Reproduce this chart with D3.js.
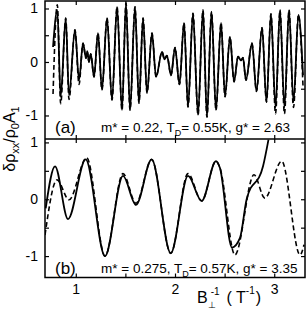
<!DOCTYPE html>
<html lang="en">
    <head>
        <meta charset="utf-8">
        <title>SdH oscillations</title>
        <script type="text/javascript" src="https://cdn.jsdelivr.net/npm/d3@7"></script>
        <style>
            body { margin: 0; background: #fff; }
            text { font-family: "Liberation Sans", Arial, sans-serif; fill: #000; }
        </style>
    </head>
    <body>
        <script type="text/javascript">
            // panel (a): extrema of the oscillation, B^-1 in 1/T
            var aX = [0.771, 0.814, 0.848, 0.899, 0.932, 0.992, 1.033, 1.073, 1.103, 1.116,
                      1.133, 1.151, 1.184, 1.224, 1.264, 1.315, 1.365, 1.416, 1.466, 1.506,
                      1.547, 1.597, 1.637, 1.678, 1.718, 1.768, 1.809, 1.869, 1.894, 1.919,
                      1.960, 2.000, 2.045, 2.091, 2.131, 2.181, 2.232, 2.282, 2.322, 2.368,
                      2.413, 2.464, 2.504, 2.554, 2.595, 2.635, 2.665, 2.685, 2.715, 2.776,
                      2.821, 2.877, 2.922, 2.967, 3.013, 3.058, 3.103, 3.149, 3.194, 3.244, 3.290];
            // measured (solid)
            var aMeas = [0.28, 0.97, -0.65, 0.82, -0.62, 0.60, -0.34, 0.35, 0.07, 0.20,
                         0.00, 0.15, -0.28, 0.54, -0.52, 0.82, -0.71, 1.03, -0.90, 1.10,
                         -0.90, 1.03, -0.77, 0.82, -0.58, 0.54, -0.28, 0.19, 0.05, 0.12,
                         -0.25, 0.27, -0.42, 0.73, -0.84, 0.91, -0.99, 0.97, -1.03, 0.94,
                         -0.90, 0.73, -0.65, 0.47, -0.37, 0.10, 0.03, 0.08, -0.34, 0.35,
                         -0.55, 0.64, -0.75, 0.90, -0.85, 0.97, -0.85, 0.97, -0.75, 0.88, -0.25];
            // calculated (dashed)
            var aCalc = [-0.60, 1.07, -0.78, 0.82, -0.70, 0.60, -0.42, 0.35, 0.07, 0.20,
                         0.00, 0.15, -0.28, 0.54, -0.52, 0.82, -0.71, 1.03, -0.90, 1.10,
                         -0.90, 1.03, -0.77, 0.82, -0.58, 0.54, -0.28, 0.19, 0.05, 0.12,
                         -0.25, 0.27, -0.42, 0.73, -0.84, 0.91, -0.99, 0.97, -1.03, 0.94,
                         -0.90, 0.73, -0.65, 0.47, -0.37, 0.10, 0.03, 0.08, -0.34, 0.35,
                         -0.55, 0.64, -0.75, 0.90, -0.97, 0.97, -0.97, 0.97, -0.85, 0.88, -0.45];

            // panel (b)
            var bMeasX = [0.697, 0.791, 0.922, 1.100, 1.295, 1.476, 1.607, 1.765, 1.957,
                          2.131, 2.269, 2.413, 2.453, 2.574, 2.655, 2.722, 2.887, 2.942];
            var bMeas = [-0.16, 0.58, -0.35, 0.70, -1.00, 0.41, -0.10, 0.70, -0.95,
                         0.41, -0.03, 0.67, 0.55, -0.85, -0.68, 0.00, 0.58, 1.05];
            var bCalcX = [0.690, 0.811, 0.932, 1.110, 1.295, 1.476, 1.607, 1.765, 1.957, 2.131,
                          2.269, 2.413, 2.453, 2.604, 2.796, 2.905, 3.075, 3.260, 3.300];
            var bCalc = [-0.63, 0.34, -0.01, 0.73, -1.00, 0.45, -0.07, 0.70, -0.95, 0.45,
                         -0.03, 0.67, 0.55, -0.98, 0.43, 0.02, 0.67, -0.98, -0.80];

            var xTicks = [1, 1.5, 2, 2.5, 3];
            var yTicks = [-1, -0.5, 0, 0.5, 1];
            var labelA = "(a)", labelB = "(b)";
            var paramsA = ["m* = 0.22, T", "D", "= 0.55K, g* = 2.63"];
            var paramsB = ["m* = 0.275, T", "D", "= 0.57K, g* = 3.35"];

            var w = 307, h = 312;
            var left = 45, right = 305;
            var topA = 1, mid = 139, botB = 277.5;

            var svg = d3.select("body").append("svg")
                .attr("width", w)
                .attr("height", h);

            var x = d3.scaleLinear().domain([0.69, 3.31]).range([left, right]);
            var yA = d3.scaleLinear().domain([-1.44, 1.14]).range([mid, topA]);
            var yB = d3.scaleLinear().domain([-1.377, 1.06]).range([botB, mid]);

            function zip(xs, ys) {
                return xs.map(function(d, i) { return [d, ys[i]]; });
            }

            function panel(y, y0, y1, sets, showX) {
                var g = svg.append("g");
                g.append("defs").append("clipPath").attr("id", "clip" + y0)
                    .append("rect").attr("x", left).attr("y", y0)
                    .attr("width", right - left).attr("height", y1 - y0);

                var line = d3.line()
                    .x(function(d) { return x(d[0]); })
                    .y(function(d) { return y(d[1]); })
                    .curve(d3.curveMonotoneX);

                sets.forEach(function(s) {
                    g.append("path")
                        .attr("clip-path", "url(#clip" + y0 + ")")
                        .attr("d", line(s.pts))
                        .attr("fill", "none")
                        .attr("stroke", "#000")
                        .attr("stroke-width", s.dash ? 1.6 : 1.8)
                        .attr("stroke-linejoin", "round")
                        .attr("stroke-dasharray", s.dash ? "5,3" : null);
                });

                // ticks inward on all four sides
                var lab = function(d) { return Number.isInteger(d) ? String(d) : ""; };
                var ax = [
                    [d3.axisLeft(y).tickValues(yTicks).tickFormat(lab), left, 0],
                    [d3.axisRight(y).tickValues(yTicks).tickFormat(""), right, 0],
                    [d3.axisTop(x).tickValues(xTicks).tickFormat(""), 0, y0],
                    [d3.axisBottom(x).tickValues(xTicks).tickFormat(showX ? lab : ""), 0, y1]
                ];
                ax.forEach(function(a) {
                    var ag = g.append("g")
                        .attr("transform", "translate(" + a[1] + "," + a[2] + ")")
                        .call(a[0].tickSize(-4).tickPadding(7));
                    ag.select(".domain").remove();
                    ag.selectAll("line").attr("stroke-width", 1.2);
                    ag.selectAll("text")
                        .attr("font-size", 14)
                        .attr("font-family", "Liberation Sans, Arial, sans-serif");
                });
                return g;
            }

            panel(yA, topA, mid, [
                {pts: zip(aX, aCalc), dash: true},
                {pts: zip(aX, aMeas), dash: false}
            ], false);
            panel(yB, mid, botB, [
                {pts: zip(bCalcX, bCalc), dash: true},
                {pts: zip(bMeasX, bMeas), dash: false}
            ], true);

            // frame
            svg.append("rect")
                .attr("x", left).attr("y", topA)
                .attr("width", right - left).attr("height", botB - topA)
                .attr("fill", "none").attr("stroke", "#000").attr("stroke-width", 1.5);
            svg.append("line")
                .attr("x1", left).attr("x2", right).attr("y1", mid).attr("y2", mid)
                .attr("stroke", "#000").attr("stroke-width", 1.5);

            // panel labels and fit parameters
            function note(tag, params, yb) {
                svg.append("text").attr("x", 55).attr("y", yb + 1)
                    .attr("font-size", 17).text(tag);
                var t = svg.append("text").attr("x", 101).attr("y", yb)
                    .attr("font-size", 13.5);
                t.append("tspan").text(params[0]);
                t.append("tspan").attr("font-size", 9).attr("dy", 4).text(params[1]);
                t.append("tspan").attr("dy", -4).text(params[2]);
            }
            note(labelA, paramsA, 132);
            note(labelB, paramsB, 273);

            // x axis title
            var xt = svg.append("text").attr("x", 197).attr("y", 303).attr("font-size", 16);
            xt.append("tspan").text("B");
            xt.append("tspan").attr("font-size", 9).attr("dy", 5).text("\u22a5");
            xt.append("tspan").attr("font-size", 10).attr("dx", -5).attr("dy", -13).text("-1");
            xt.append("tspan").attr("dy", 8).attr("dx", 7).text("( T");
            xt.append("tspan").attr("font-size", 10).attr("dy", -9).text("-1");
            xt.append("tspan").attr("dy", 9).attr("dx", 1).text(")");

            // y axis title
            var yt = svg.append("text")
                .attr("transform", "translate(15,139) rotate(-90)")
                .attr("text-anchor", "middle")
                .attr("font-size", 16);
            yt.append("tspan").text("\u03b4\u03c1");
            yt.append("tspan").attr("font-size", 11).attr("dy", 4).text("xx");
            yt.append("tspan").attr("dy", -4).text("/\u03c1");
            yt.append("tspan").attr("font-size", 11).attr("dy", 4).text("0");
            yt.append("tspan").attr("dy", -4).text("A");
            yt.append("tspan").attr("font-size", 11).attr("dy", 4).text("1");
        </script>
    </body>
</html>
